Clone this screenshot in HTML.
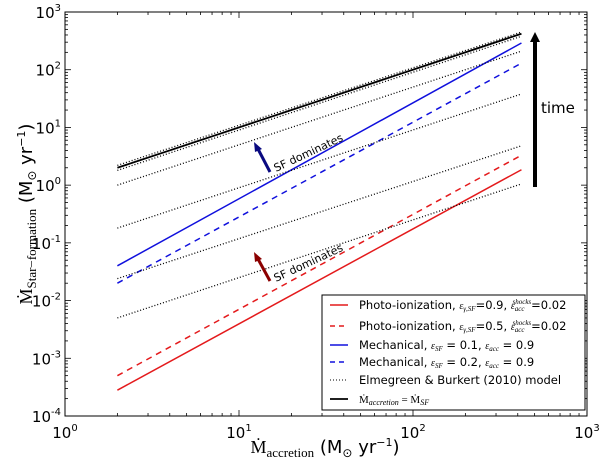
<!DOCTYPE html>
<html><head><meta charset="utf-8"><style>
body{margin:0;background:#fff;}
svg{display:block;font-family:"DejaVu Sans","Liberation Sans",sans-serif;}
</style></head><body>
<svg id="chart" width="600" height="465"></svg>
<script>
const xDecades=[1,10,100,1000];
const yDecades=[-4,-3,-2,-1,0,1,2,3];
const xStart=[2,2,2,2,2,2,2,2,2,2,2];
const xEnd=[420,420,420,420,420,420,420,420,420,420,420];
const seriesNames=['photo-09','photo-05','mech-01','mech-02','elmegreen-a','elmegreen-b','elmegreen-c','elmegreen-d','elmegreen-e','elmegreen-f','equality'];
const yStart=[2.8e-4,5e-4,0.04,0.02,2.2,1.8,1.0,0.18,0.024,0.005,2];
const yEnd=[1.85,3.3,290,130,450,380,210,38,4.8,1.05,420];
const L=65,R=587,T=12,B=416;
function X(v){return L+(Math.log10(v)-0)/3*(R-L);}
function Y(v){return T+(3-Math.log10(v))/7*(B-T);}
const NS='http://www.w3.org/2000/svg';
const svg=document.getElementById('chart');
function mk(tag,attrs,parent){const e=document.createElementNS(NS,tag);for(const k in attrs)e.setAttribute(k,attrs[k]);(parent||svg).appendChild(e);return e;}
const styles=[
['#e41a1c','none',1.5],['#e41a1c','6,5',1.5],['#1010dd','none',1.5],['#1010dd','6,5',1.5],
['#000','1,2',1.3],['#000','1,2',1.3],['#000','1,2',1.3],['#000','1,2',1.3],['#000','1,2',1.3],['#000','1,2',1.3],['#000','none',1.8]];
let fr=mk('rect',{x:L,y:T,width:R-L,height:B-T,fill:'none',stroke:'#000','stroke-width':1});


for(let d=0;d<3;d++){for(let m=1;m<10;m++){const x=X(Math.pow(10,d)*m);const len=m==1?6:3;
 mk('line',{x1:x,y1:B,x2:x,y2:B-len,stroke:'#000','stroke-width':0.8});mk('line',{x1:x,y1:T,x2:x,y2:T+len,stroke:'#000','stroke-width':0.8});}}
for(let d=-4;d<3;d++){for(let m=1;m<10;m++){const y=Y(Math.pow(10,d)*m);const len=m==1?6:3;
 mk('line',{x1:L,y1:y,x2:L+len,y2:y,stroke:'#000','stroke-width':0.8});mk('line',{x1:R,y1:y,x2:R-len,y2:y,stroke:'#000','stroke-width':0.8});}}
xDecades.forEach((v,i)=>{const t=mk('text',{x:X(v),y:B+22,'text-anchor':'middle','font-size':15});
 
 
 t.innerHTML='10<tspan dy="-7" font-size="10">'+i+'</tspan>';});
yDecades.forEach(e=>{const t=mk('text',{x:L-4,y:Y(Math.pow(10,e))+6,'text-anchor':'end','font-size':15});
 
 
 t.innerHTML='10<tspan dy="-7" font-size="10">'+e+'</tspan>';});
seriesNames.forEach((n,i)=>{const s=styles[i];
 const l=mk('line',{x1:X(xStart[i]),y1:Y(yStart[i]),x2:X(xEnd[i]),y2:Y(yEnd[i]),stroke:s[0],'stroke-width':s[2],'stroke-dasharray':s[1]});
 
 });
</script>
<svg style="position:absolute;left:0;top:0" width="600" height="465">
<line x1="270" y1="172" x2="258" y2="149" stroke="#0a0a80" stroke-width="3"/>
<polygon points="254,142 262,149 255,152" fill="#0a0a80"/>
<text x="276" y="172" font-size="11" transform="rotate(-25 276 172)">SF dominates</text>
<line x1="270" y1="281" x2="258" y2="259" stroke="#8b0000" stroke-width="3"/>
<polygon points="254,252 262,259 255,262" fill="#8b0000"/>
<text x="276" y="282" font-size="11" transform="rotate(-25 276 282)">SF dominates</text>
<polygon points="533,187 537,187 537,42 540,42 535,32 530,42 533,42" fill="#000"/>
<text x="541" y="113" font-size="15">time</text>
<g>
<rect x="322" y="295" width="263" height="115" fill="#fff" stroke="#000" stroke-width="1"/>
<line x1="330" y1="305" x2="348" y2="305" stroke="#e41a1c" stroke-width="1.5"/>
<text x="359" y="309" font-size="11.5">Photo-ionization, <tspan font-family="Liberation Serif" font-style="italic" font-size="10">ε<tspan font-size="7" dy="2">γ,SF</tspan></tspan><tspan dy="-2">=0.9, </tspan><tspan font-family="Liberation Serif" font-style="italic" font-size="10">ε<tspan font-size="7" dy="2">acc</tspan></tspan><tspan font-size="7" font-family="Liberation Serif" font-style="italic" dy="-7" dx="-12">shocks</tspan><tspan dy="5">=0.02</tspan></text>
<line x1="330" y1="326" x2="348" y2="326" stroke="#e41a1c" stroke-width="1.5" stroke-dasharray="5,4"/>
<text x="359" y="330" font-size="11.5">Photo-ionization, <tspan font-family="Liberation Serif" font-style="italic" font-size="10">ε<tspan font-size="7" dy="2">γ,SF</tspan></tspan><tspan dy="-2">=0.5, </tspan><tspan font-family="Liberation Serif" font-style="italic" font-size="10">ε<tspan font-size="7" dy="2">acc</tspan></tspan><tspan font-size="7" font-family="Liberation Serif" font-style="italic" dy="-7" dx="-12">shocks</tspan><tspan dy="5">=0.02</tspan></text>
<line x1="330" y1="345" x2="348" y2="345" stroke="#1010dd" stroke-width="1.5"/>
<text x="359" y="349" font-size="11.5">Mechanical, <tspan font-family="Liberation Serif" font-style="italic" font-size="10">ε<tspan font-size="7" dy="2">SF</tspan></tspan><tspan dy="-2"> = 0.1, </tspan><tspan font-family="Liberation Serif" font-style="italic" font-size="10">ε<tspan font-size="7" dy="2">acc</tspan></tspan><tspan dy="-2"> = 0.9</tspan></text>
<line x1="330" y1="362" x2="348" y2="362" stroke="#1010dd" stroke-width="1.5" stroke-dasharray="5,4"/>
<text x="359" y="366" font-size="11.5">Mechanical, <tspan font-family="Liberation Serif" font-style="italic" font-size="10">ε<tspan font-size="7" dy="2">SF</tspan></tspan><tspan dy="-2"> = 0.2, </tspan><tspan font-family="Liberation Serif" font-style="italic" font-size="10">ε<tspan font-size="7" dy="2">acc</tspan></tspan><tspan dy="-2"> = 0.9</tspan></text>
<line x1="330" y1="380" x2="348" y2="380" stroke="#000" stroke-width="1" stroke-dasharray="1,2"/>
<text x="359" y="384" font-size="11.5">Elmegreen &amp; Burkert (2010) model</text>
<line x1="330" y1="399" x2="348" y2="399" stroke="#000" stroke-width="1.8"/>
<text x="359" y="403" font-size="11" font-family="Liberation Serif">Ṁ<tspan font-style="italic" font-size="8" dy="2">accretion</tspan><tspan dy="-2"> = Ṁ</tspan><tspan font-style="italic" font-size="8" dy="2">SF</tspan></text>
</g>
<text x="325" y="453" text-anchor="middle" font-size="18"><tspan font-family="Liberation Serif">Ṁ<tspan font-size="13" dy="4">accretion</tspan></tspan><tspan dy="-4"> (M</tspan><tspan font-size="12" dy="4">⊙</tspan><tspan dy="-4"> yr</tspan><tspan font-size="11" dy="-7">−1</tspan><tspan dy="7">)</tspan></text>
<text transform="translate(32 214) rotate(-90)" text-anchor="middle" font-size="18"><tspan font-family="Liberation Serif">Ṁ<tspan font-size="13" dy="4">Star−formation</tspan></tspan><tspan dy="-4"> (M</tspan><tspan font-size="12" dy="4">⊙</tspan><tspan dy="-4"> yr</tspan><tspan font-size="11" dy="-7">−1</tspan><tspan dy="7">)</tspan></text>
</svg>
</body></html>
